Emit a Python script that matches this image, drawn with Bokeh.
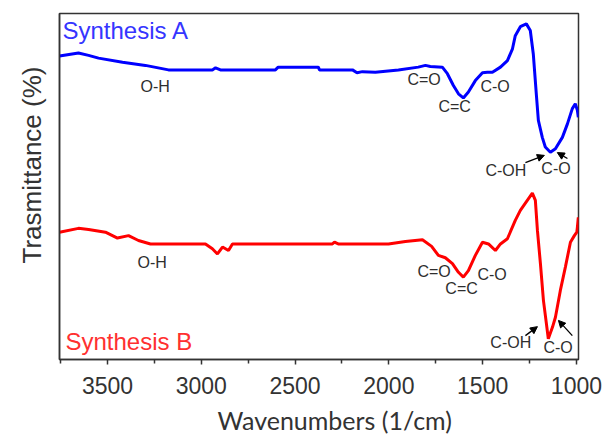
from bokeh.plotting import figure
from bokeh.models import Range1d, FixedTicker, Label, Arrow, NormalHead, Title
from bokeh.embed import file_html
from bokeh.resources import INLINE

# ---- data ----
wn_a = [3756, 3655, 3601, 3548, 3420, 3298, 3175, 2941, 2924, 2898, 2605, 2590,
        2376, 2370, 2194, 2170, 2141, 2072, 1949, 1843, 1805, 1779, 1715, 1688,
        1656, 1629, 1603, 1576, 1539, 1501, 1475, 1448, 1405, 1368, 1341, 1326,
        1299, 1267, 1246, 1230, 1214, 1203, 1182, 1166, 1139, 1112, 1075, 1048,
        1022, 1006, 995, 990]
t_a = [87.7, 88.6, 87.9, 87.1, 85.9, 85.0, 83.7, 83.7, 84.3, 83.7, 83.7, 84.5,
       84.5, 83.7, 83.7, 82.9, 83.2, 83.0, 83.7, 84.5, 85.0, 84.7, 84.5, 82.6,
       79.2, 76.8, 75.6, 77.3, 80.6, 82.9, 83.0, 83.0, 84.5, 86.4, 89.8, 93.6,
       96.2, 97.0, 95.1, 88.3, 76.8, 69.1, 64.2, 61.4, 59.9, 60.9, 64.2, 68.1,
       72.5, 73.9, 72.0, 70.0]

wn_b = [3756, 3655, 3601, 3511, 3447, 3388, 3335, 3271, 2978, 2941, 2914, 2887,
        2871, 2855, 2834, 2301, 2290, 2270, 2002, 1912, 1821, 1772, 1736, 1699,
        1661, 1629, 1603, 1576, 1539, 1501, 1469, 1432, 1405, 1368, 1326, 1299,
        1262, 1235, 1219, 1208, 1192, 1176, 1160, 1150, 1128, 1112, 1086, 1059,
        1032, 1011, 998, 995, 990]
t_b = [36.8, 37.9, 37.6, 36.8, 35.1, 35.8, 34.4, 33.4, 33.4, 32.0, 30.5, 32.5,
       32.0, 31.5, 33.4, 33.4, 33.9, 33.4, 33.4, 34.1, 34.6, 32.7, 30.1, 29.4,
       27.7, 25.2, 23.8, 25.7, 30.1, 33.9, 33.4, 31.5, 33.4, 34.9, 40.2, 43.1,
       46.0, 48.1, 46.0, 37.3, 27.7, 17.1, 10.3, 6.0, 9.3, 12.2, 19.9, 26.7,
       33.9, 35.8, 36.8, 38.2, 41.1]

x_ticks = [3500, 3000, 2500, 2000, 1500, 1000]
x_minor = [3750, 3250, 2750, 2250, 1750, 1250]

ann_text = ["O-H", "C=O", "C=C", "C-O", "C-OH", "C-O"]
ann_a_x = [3324, 1901, 1736, 1512, 1485, 1187]
ann_a_y = [78.9, 80.9, 73.0, 78.9, 54.6, 55.1]
ann_b_x = [3340, 1848, 1699, 1528, 1459, 1176]
ann_b_y = [27.9, 25.4, 20.4, 24.6, 4.8, 3.5]

arrows_a = [(1272, 56.9, 1171, 59.0), (1048, 58.1, 1102, 59.8)]
arrows_b = [(1272, 6.9, 1208, 9.5), (1022, 6.9, 1096, 11.3)]

FONT = "Liberation Sans"
DARK = "#333333"

p = figure(width=603, height=440, output_backend="svg", toolbar_location=None,
           x_range=Range1d(3756, 989), y_range=Range1d(0, 100),
           min_border_left=59, min_border_right=25, min_border_top=13,
           min_border_bottom=81)
p.background_fill_color = "white"
p.border_fill_color = "white"
p.xgrid.visible = False
p.ygrid.visible = False
p.outline_line_color = DARK
p.outline_line_width = 1.5
p.outline_line_alpha = 1.0

p.line(wn_a, t_a, line_color="#0000ff", line_width=3)
p.line(wn_b, t_b, line_color="#ff0000", line_width=3)

# x axis
xa = p.xaxis[0]
xa.ticker = FixedTicker(ticks=x_ticks, minor_ticks=x_minor)
xa.major_tick_in = 0
xa.major_tick_out = 5
xa.minor_tick_in = 0
xa.minor_tick_out = 4
xa.axis_line_color = DARK
xa.axis_line_width = 1.5
xa.major_tick_line_color = DARK
xa.major_tick_line_width = 1.5
xa.minor_tick_line_color = DARK
xa.minor_tick_line_width = 1.5
xa.major_label_text_font = FONT
xa.major_label_text_font_size = "23px"
xa.major_label_text_color = DARK
xa.major_label_standoff = 12

p.add_layout(Title(text="Wavenumbers (1/cm)", align="left", offset=158,
                   vertical_align="bottom",
                   text_font="Lato", text_font_size="25px",
                   text_font_style="normal", text_color=DARK, standoff=12),
             "below")

# y axis
ya = p.yaxis[0]
ya.ticker = FixedTicker(ticks=[])
ya.major_tick_line_color = None
ya.minor_tick_line_color = None
ya.major_label_text_font_size = "0px"
ya.axis_line_color = DARK
ya.axis_line_width = 1.5

p.add_layout(Title(text="Trasmittance (%)", align="left", offset=96,
                   text_font=FONT, text_font_size="26px",
                   text_font_style="normal", text_color=DARK, standoff=26),
             "left")

# series labels
p.add_layout(Label(x=3740, y=95.2, text="Synthesis A", text_font=FONT,
                   text_font_size="24px", text_color="#3535ff",
                   text_align="left", text_baseline="middle"))
p.add_layout(Label(x=3724, y=5.1, text="Synthesis B", text_font=FONT,
                   text_font_size="24px", text_color="#ff3030",
                   text_align="left", text_baseline="middle"))

for xs, ys in ((ann_a_x, ann_a_y), (ann_b_x, ann_b_y)):
    for t, x, y in zip(ann_text, xs, ys):
        p.add_layout(Label(x=x, y=y, text=t, text_font=FONT,
                           text_font_size="16px", text_color="#2e2e2e",
                           text_align="left", text_baseline="middle"))

for x0, y0, x1, y1 in arrows_a + arrows_b:
    p.add_layout(Arrow(end=NormalHead(size=7, fill_color="black",
                                      line_color="black", line_width=1),
                       x_start=x0, y_start=y0, x_end=x1, y_end=y1,
                       line_color="black", line_width=1.3))

open("out.html", "w").write(file_html(p, INLINE))
